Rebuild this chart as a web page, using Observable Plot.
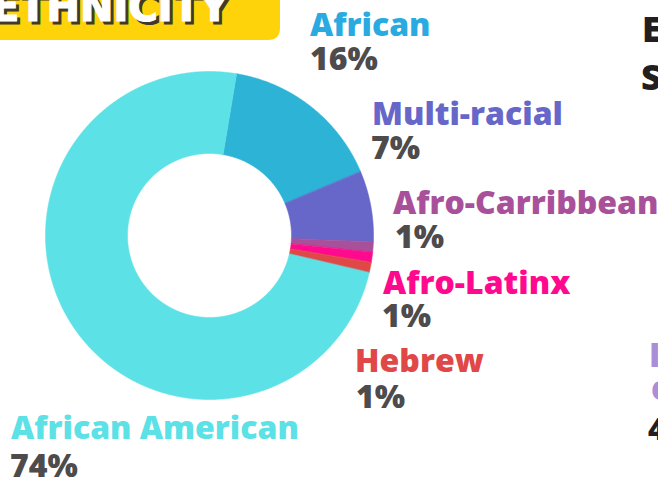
<!DOCTYPE html>
<html>
<head>
<meta charset="utf-8">
<script src="https://cdn.jsdelivr.net/npm/d3@7"></script>
<script src="https://cdn.jsdelivr.net/npm/@observablehq/plot@0.6"></script>
<style>
  html, body { margin: 0; padding: 0; background: #fff; overflow: hidden; }
  #wrap { position: relative; width: 658px; height: 482px; overflow: hidden; }
  #wrap > svg { position: absolute; left: 0; top: 0; }
</style>
</head>
<body>
<div id="wrap"></div>
<script>
// ---- data ----
const categories = ["African", "Multi-racial", "Afro-Carribbean", "Afro-Latinx", "Hebrew", "African American"];
const shares = [16, 7, 1, 1, 1, 74];
const percentLabels = ["16%", "7%", "1%", "1%", "1%", "74%"];
const sliceColors = ["#2db3d6", "#6667c8", "#a8519a", "#ff0a8f", "#e04848", "#5ce1e6"];
const labelColors = ["#29abe2", "#6667c8", "#a8519a", "#ff0a8f", "#e04848", "#5ce1e6"];
const title = "ETHNICITY";

// ---- layout (pixels) ----
const startDeg = 9.5;          // clockwise from 12 o'clock
const innerRatio = 0.5;
const labelLayout = [
  {x: 310, y: 36, ny: 70, nx: 310},
  {x: 372, y: 125, ny: 159, nx: 371},
  {x: 393, y: 214, ny: 248, nx: 395},
  {x: 383, y: 294, ny: 327, nx: 382},
  {x: 355, y: 372, ny: 408, nx: 356},
  {x: 11,  y: 439, ny: 477, nx: 10}
];

// build wedge polygons from shares
const total = d3.sum(shares);
const pts = [];
let acc = 0;
categories.forEach((name, i) => {
  const a0 = (startDeg + acc / total * 360) * Math.PI / 180;
  acc += shares[i];
  const a1 = (startDeg + acc / total * 360) * Math.PI / 180;
  const n = Math.max(2, Math.ceil((a1 - a0) / (Math.PI / 720)));
  for (let k = 0; k <= n; k++) {
    const a = a0 + (a1 - a0) * k / n;
    pts.push({name, x: Math.sin(a), y: Math.cos(a)});
  }
  for (let k = n; k >= 0; k--) {
    const a = a0 + (a1 - a0) * k / n;
    pts.push({name, x: innerRatio * Math.sin(a), y: innerRatio * Math.cos(a)});
  }
});

const chart = Plot.plot({
  width: 658,
  height: 482,
  margin: 0,
  style: {background: "transparent", overflow: "visible"},
  x: {domain: [-1, 1], range: [45, 373], axis: null},
  y: {domain: [-1, 1], range: [399, 71], axis: null},
  color: {domain: categories, range: sliceColors},
  marks: [
    Plot.line(pts, {x: "x", y: "y", z: "name", fill: "name", stroke: "name", strokeWidth: 0.6, curve: "linear-closed"})
  ]
});
const wrap = document.getElementById("wrap");
wrap.appendChild(chart);

// overlay for title box and labels
const ns = "http://www.w3.org/2000/svg";
const ov = document.createElementNS(ns, "svg");
ov.setAttribute("width", 658);
ov.setAttribute("height", 482);
ov.style.pointerEvents = "none";
function el(tag, attrs, text) {
  const e = document.createElementNS(ns, tag);
  for (const k in attrs) e.setAttribute(k, attrs[k]);
  if (text != null) e.textContent = text;
  ov.appendChild(e);
  return e;
}
// title banner
el("path", {d: "M0,-20 H280 V28 Q280,40 268,40 H0 Z", fill: "#ffd30a"});
el("text", {x: -5, y: 24, "font-family": "DejaVu Sans", "font-weight": 700, "font-size": 40, fill: "#40392a", stroke: "#40392a", "stroke-width": 1.2}, title);
el("text", {x: -8, y: 21, "font-family": "DejaVu Sans", "font-weight": 700, "font-size": 40, fill: "#ffffff", stroke: "#ffffff", "stroke-width": 1.2}, title);

categories.forEach((name, i) => {
  const L = labelLayout[i];
  el("text", {x: L.x, y: L.y, "font-family": "Open Sans", "font-weight": 800, "font-size": 32, fill: labelColors[i]}, name);
  el("text", {x: L.nx, y: L.ny, "font-family": "Open Sans", "font-weight": 800, "font-size": 32, fill: "#4d4b4c"}, percentLabels[i]);
});

// partially visible neighbouring text at right edge
el("text", {x: 642, y: 42, "font-family": "Open Sans", "font-weight": 800, "font-size": 35, fill: "#231f20"}, "E");
el("text", {x: 641, y: 90, "font-family": "Open Sans", "font-weight": 800, "font-size": 36, fill: "#231f20"}, "S");
el("text", {x: 649, y: 367, "font-family": "Open Sans", "font-weight": 800, "font-size": 33, fill: "#a98ed8"}, "I");
el("text", {x: 651, y: 400, "font-family": "Open Sans", "font-weight": 800, "font-size": 33, fill: "#a98ed8"}, "e");
el("text", {x: 648, y: 440, "font-family": "Open Sans", "font-weight": 800, "font-size": 30, fill: "#231f20"}, "4");

wrap.appendChild(ov);
</script>
</body>
</html>
